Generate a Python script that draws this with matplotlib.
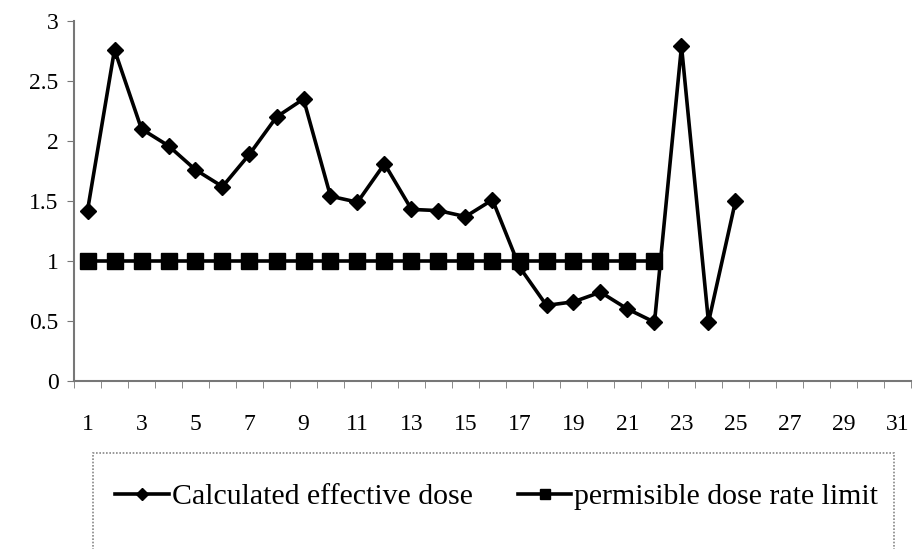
import matplotlib
matplotlib.use("Agg")
import matplotlib.pyplot as plt
from matplotlib.patches import Rectangle

# values
samples = list(range(1, 26))
effective_dose = [1.42, 2.76, 2.10, 1.96, 1.76, 1.62, 1.89, 2.20, 2.35, 1.54,
                  1.49, 1.81, 1.43, 1.42, 1.37, 1.51, 0.95, 0.63, 0.66, 0.74,
                  0.60, 0.49, 2.79, 0.49, 1.50]
limit_samples = list(range(1, 23))
dose_limit = [1.0] * 22
x_labels = list(range(1, 32, 2))
y_ticks = [0, 0.5, 1, 1.5, 2, 2.5, 3]

plt.rcParams["font.family"] = ["Liberation Serif", "DejaVu Serif"]

fig = plt.figure(figsize=(9.15, 5.49), dpi=100)
ax = fig.add_axes([74 / 915, 1 - 381 / 549, (911 - 74) / 915, 360 / 549])

ax.plot(samples, effective_dose, color="black", linewidth=2.6,
        marker="D", markersize=8.5, label="Calculated effective dose")
ax.plot(limit_samples, dose_limit, color="black", linewidth=2.6,
        marker="s", markersize=11, label="permisible dose rate limit")

ax.set_xlim(0.5, 31.5)
ax.set_ylim(0, 3)
ax.set_xticks(x_labels)
ax.set_xticklabels([str(v) for v in x_labels])
ax.set_xticks([v + 0.5 for v in range(0, 32)], minor=True)
ax.tick_params(axis="x", which="major", length=0, pad=24, labelsize=17)
ax.tick_params(axis="x", which="minor", length=5, color="#777777", direction="out")
ax.set_yticks(y_ticks)
ax.set_yticklabels(["0", "0.5", "1", "1.5", "2", "2.5", "3"])
ax.tick_params(axis="y", length=5, color="#777777", labelsize=17, pad=6)

for side in ["top", "right"]:
    ax.spines[side].set_visible(False)
for side in ["left", "bottom"]:
    ax.spines[side].set_color("#777777")
    ax.spines[side].set_linewidth(1.5)

# legend box in figure coordinates
fig.patches.append(Rectangle((93 / 915, -0.01), (894 - 93) / 915, 1 - 453 / 549 + 0.01,
                             transform=fig.transFigure, fill=False,
                             edgecolor="#888888", linewidth=1.2, linestyle=(0, (1, 1))))
fig.legend(loc="center", bbox_to_anchor=(0.543, 1 - 497 / 549), ncol=2,
           frameon=False, fontsize=21.5, handlelength=1.8, columnspacing=1.5,
           handletextpad=0.1, markerscale=0.7)

fig.savefig("out.png", dpi=100)
